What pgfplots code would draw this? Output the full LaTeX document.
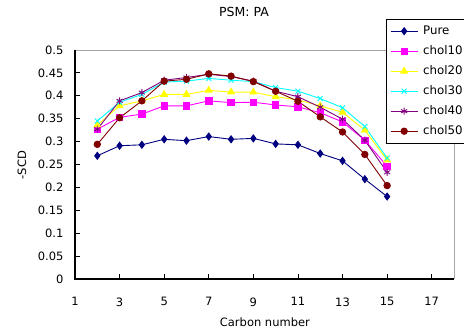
\documentclass[border=0pt]{standalone}
\usepackage{pgfplots}
\pgfplotsset{compat=1.18}
\usepackage{fontspec}
\setmainfont{DejaVu Sans}
\definecolor{cpure}{HTML}{000080}
\definecolor{c10}{HTML}{FF00FF}
\definecolor{c20}{HTML}{FFFF00}
\definecolor{c30}{HTML}{00FFFF}
\definecolor{c40}{HTML}{800080}
\definecolor{c50}{HTML}{800000}
\begin{document}
\begin{tikzpicture}
\useasboundingbox (0,0) rectangle (464pt,-336pt);
\begin{axis}[
  at={(75pt,-279pt)}, anchor=south west,
  scale only axis, width=379pt, height=229pt,
  xmin=1, xmax=18, ymin=0, ymax=0.5,
  clip=false,
  xtick={1,3,...,17},
  ytick={0,0.05,0.1,0.15,0.2,0.25,0.3,0.35,0.4,0.45,0.5},
  yticklabels={0,0.05,0.1,0.15,0.2,0.25,0.3,0.35,0.4,0.45,0.5},
  tick align=inside, xtick pos=bottom, ytick pos=left,
  major tick length=5pt,
  tick style={black, line width=0.8pt},
  axis line style={draw=none},
  /pgf/number format/assume math mode=true,
  tick label style={font=\fontsize{11.5}{13}\selectfont},
  xticklabel style={yshift=-15pt},
  yticklabel style={xshift=-8pt},
  every axis title shift=0pt,
  title={PSM: PA},
  title style={at={(rel axis cs:0.446,1.166)}, anchor=center, font=\fontsize{12.5}{14}\selectfont},
  xlabel={Carbon number},
  xlabel style={at={(rel axis cs:0.501,-0.188)}, anchor=center, font=\fontsize{11.5}{14}\selectfont},
  ylabel={-SCD},
  ylabel style={at={(rel axis cs:-0.1398,0.4978)}, anchor=center, rotate=0, font=\fontsize{11.5}{14}\selectfont},
  legend style={at={(rel axis cs:0.8206,1.1354)}, anchor=north west, draw=black, fill=white,
    font=\fontsize{11.8}{14}\selectfont, inner xsep=4pt, inner ysep=2pt,
    nodes={inner sep=0pt, minimum height=20pt}, row sep=0pt,
    /tikz/every odd column/.append style={column sep=5pt}},
  legend cell align=left,
  legend image code/.code={\draw[#1, mark repeat=2, mark phase=2] plot coordinates {(0pt,0pt) (13.5pt,0pt) (27pt,0pt)};},
]
\addplot[cpure, line width=0.9pt, mark=diamond*, mark size=3.5pt, mark options={solid, fill=cpure}] coordinates {
(2,0.269)(3,0.291)(4,0.293)(5,0.305)(6,0.302)(7,0.311)(8,0.305)(9,0.307)(10,0.295)(11,0.293)(12,0.274)(13,0.258)(14,0.218)(15,0.180)};
\addlegendentry{Pure}
\addplot[c10, line width=0.9pt, mark=square*, mark size=3.2pt, mark options={solid, fill=c10}] coordinates {
(2,0.327)(3,0.353)(4,0.360)(5,0.378)(6,0.378)(7,0.389)(8,0.385)(9,0.386)(10,0.380)(11,0.376)(12,0.363)(13,0.343)(14,0.303)(15,0.246)};
\addlegendentry{chol10\hspace{12pt}}
\addplot[c20, line width=0.9pt, mark=triangle*, mark size=3.8pt, mark options={solid, fill=c20}] coordinates {
(2,0.336)(3,0.378)(4,0.389)(5,0.403)(6,0.403)(7,0.412)(8,0.408)(9,0.408)(10,0.398)(11,0.391)(12,0.378)(13,0.364)(14,0.325)(15,0.260)};
\addlegendentry{chol20}
\addplot[c30, line width=0.9pt, mark=x, mark size=3.5pt, mark options={solid, line width=0.9pt}] coordinates {
(2,0.345)(3,0.386)(4,0.403)(5,0.430)(6,0.432)(7,0.438)(8,0.434)(9,0.431)(10,0.418)(11,0.410)(12,0.394)(13,0.374)(14,0.333)(15,0.264)};
\addlegendentry{chol30}
\addplot[c40, line width=0.9pt, mark=asterisk, mark size=3.5pt, mark options={solid, line width=0.9pt}] coordinates {
(2,0.327)(3,0.389)(4,0.407)(5,0.434)(6,0.440)(7,0.447)(8,0.442)(9,0.432)(10,0.410)(11,0.398)(12,0.375)(13,0.349)(14,0.303)(15,0.233)};
\addlegendentry{chol40}
\addplot[c50, line width=0.9pt, mark=*, mark size=3.2pt, mark options={solid, fill=c50}] coordinates {
(2,0.294)(3,0.352)(4,0.389)(5,0.432)(6,0.436)(7,0.448)(8,0.443)(9,0.431)(10,0.410)(11,0.388)(12,0.354)(13,0.321)(14,0.272)(15,0.204)};
\addlegendentry{chol50}
\draw[gray!70, line width=0.8pt] (rel axis cs:0,1) -- (rel axis cs:1,1) -- (rel axis cs:1,0);
\draw[black, line width=1.2pt] (rel axis cs:0,1) -- (rel axis cs:0,0) -- (rel axis cs:1,0);
\end{axis}
\end{tikzpicture}
\end{document}
